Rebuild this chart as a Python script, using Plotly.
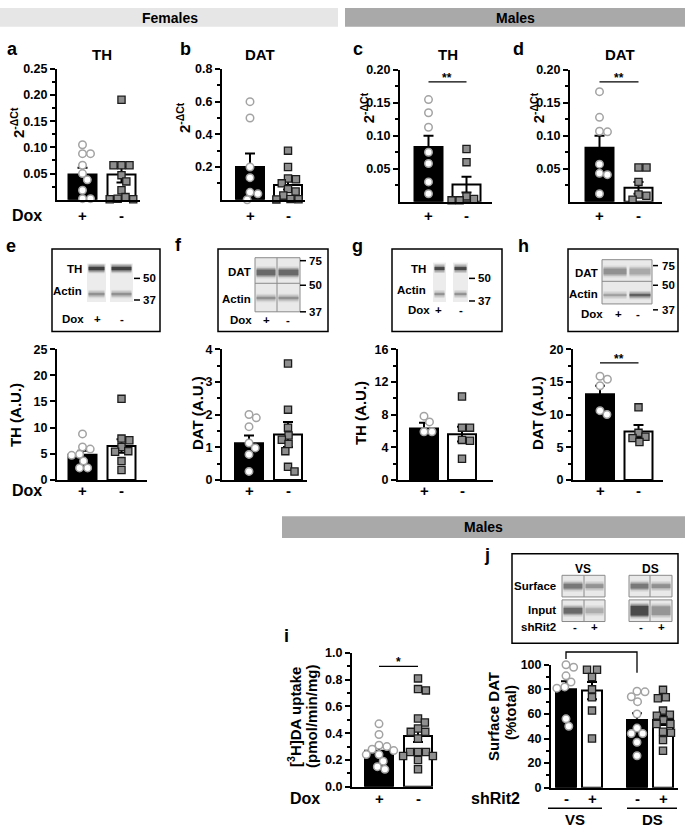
import numpy as np
import plotly.graph_objects as go

W, H = 685, 835
FONT = "Liberation Sans, Arial, Helvetica, sans-serif"

# ---------------- data ----------------
dox_ticks = ["+", "-"]
shrit_ticks = ["-", "+", "-", "+"]
region_ticks = ["VS", "DS"]

# a: TH mRNA, females
a_plus = [0.105, 0.088, 0.088, 0.066, 0.050, 0.038, 0.018, 0.002, 0.002]
a_minus = [0.191, 0.066, 0.066, 0.066, 0.047, 0.035, 0.018, 0.005, 0.002, 0.001, 0.001]
a_mean = [0.048, 0.048]
a_sem = [0.013, 0.015]

# b: DAT mRNA, females
b_plus = [0.60, 0.50, 0.20, 0.135, 0.045, 0.036, 0.0]
b_minus = [0.30, 0.20, 0.13, 0.125, 0.10, 0.065, 0.05, 0.026, 0.005, 0.003, 0.002]
b_mean = [0.20, 0.09]
b_sem = [0.083, 0.027]

# c: TH mRNA, males
c_plus = [0.155, 0.135, 0.113, 0.075, 0.058, 0.030, 0.012]
c_minus = [0.080, 0.060, 0.008, 0.004, 0.002, 0.002]
c_mean = [0.083, 0.026]
c_sem = [0.017, 0.012]

# d: DAT mRNA, males
d_plus = [0.167, 0.128, 0.107, 0.106, 0.057, 0.043, 0.041, 0.012]
d_minus = [0.052, 0.052, 0.030, 0.011, 0.009, 0.003]
d_mean = [0.082, 0.021]
d_sem = [0.018, 0.009]

# e: TH protein, females
e_plus = [8.8, 6.3, 5.9, 4.9, 4.7, 3.6, 2.3, 2.3]
e_minus = [15.5, 7.9, 7.6, 6.3, 5.5, 5.4, 3.6, 1.9]
e_mean = [4.8, 6.5]
e_sem = [0.8, 1.3]

# f: DAT protein, females
f_plus = [2.0, 1.9, 1.63, 1.13, 0.98, 0.78, 0.26]
f_minus = [3.56, 2.15, 1.6, 1.36, 1.23, 1.1, 0.88, 0.4, 0.26]
f_mean = [1.12, 1.39]
f_sem = [0.24, 0.38]

# g: TH protein, males
g_plus = [7.8, 7.1, 5.9, 5.9]
g_minus = [10.2, 6.4, 6.4, 4.9, 4.8, 2.6]
g_mean = [6.3, 5.6]
g_sem = [0.7, 0.9]

# h: DAT protein, males
h_plus = [15.85, 15.4, 14.4, 10.6, 10.0]
h_minus = [11.1, 7.2, 6.6, 6.4, 5.8]
h_mean = [13.1, 7.4]
h_sem = [1.3, 1.0]

# i: [3H]DA uptake, males
i_plus = [0.47, 0.39, 0.31, 0.30, 0.28, 0.27, 0.24, 0.24, 0.19, 0.15, 0.13]
i_minus = [0.81, 0.73, 0.72, 0.51, 0.48, 0.435, 0.41, 0.41, 0.40, 0.36,
           0.26, 0.26, 0.26, 0.23, 0.23, 0.20, 0.13]
i_mean = [0.268, 0.38]
i_sem = [0.03, 0.045]

# j: surface DAT (% total)
j_vs_minus = [100, 98, 91, 86, 82, 81, 56, 50]
j_vs_plus = [101, 96, 96, 90, 80, 73.6, 62.7, 40]
j_ds_minus = [78.5, 78, 74, 70, 60, 48.5, 44, 44, 37, 26]
j_ds_plus = [79.6, 73.6, 72.8, 62.7, 59.4, 58.6, 55, 51.8, 51.8, 45.5, 44.7, 38.7, 30]
j_mean = [80, 79, 55, 55]
j_sem = [6.5, 7, 5.5, 4]

# significance levels (data units)
sig_c = (0.182, "**")
sig_d = (0.182, "**")
sig_h = (17.9, "**")
sig_i = (0.90, "*")
sig_j = (110.4, "*")

# ---------------- layout helpers ----------------
def P(x):
    return x / W


def Q(y):
    return 1 - y / H


shapes = []
annotations = []


def text(s, x, y, size=12, anchor="center", angle=0, xref="paper", yref="paper",
         yshift=0, color="black"):
    annotations.append(dict(
        text=s, x=P(x) if xref == "paper" else x, y=Q(y) if yref == "paper" else y,
        xref=xref, yref=yref, xanchor=anchor, yanchor="middle", showarrow=False,
        textangle=angle, yshift=yshift,
        font=dict(family=FONT, size=size, color=color, weight="bold")))


def rect(x0, y0, x1, y1, fill=None, line=None, lw=0, opacity=1.0):
    shapes.append(dict(type="rect", xref="paper", yref="paper",
                       x0=P(x0), x1=P(x1), y0=Q(y1), y1=Q(y0),
                       fillcolor=fill or "rgba(0,0,0,0)",
                       line=dict(color=line or "rgba(0,0,0,0)", width=lw),
                       opacity=opacity, layer="above"))


def seg(x0, y0, x1, y1, color="black", w=1.5):
    shapes.append(dict(type="line", xref="paper", yref="paper",
                       x0=P(x0), x1=P(x1), y0=Q(y0), y1=Q(y1),
                       line=dict(color=color, width=w), layer="above"))


def band(x0, x1, yc, h, gray):
    for ext, op in [(3.0, 0.18), (1.5, 0.35), (0.0, 0.85)]:
        rect(x0 + 1.5, yc - h / 2 - ext, x1 - 1.5, yc + h / 2 + ext, fill=gray, opacity=op)


def swarm_offsets(vals, yppu, diam):
    vals = np.asarray(vals, float)
    order = np.argsort(-vals, kind="stable")
    placed = []
    off = np.zeros(len(vals))
    for i in order:
        y = vals[i] * yppu
        cands = [0.0]
        for (px_, py_) in placed:
            dy = y - py_
            if abs(dy) < diam:
                dx = np.sqrt(diam * diam - dy * dy)
                cands.extend([px_ + dx, px_ - dx])
        cands.sort(key=lambda c: (round(abs(c), 6), -c))
        for c in cands:
            if all((c - px_) ** 2 + (y - py_) ** 2 >= diam * diam - 1e-6 for px_, py_ in placed):
                off[i] = c
                placed.append((c, y))
                break
    return off


def frange(a, b, s):
    return list(np.round(np.arange(a, b + s / 2, s), 6))


panels = [
    dict(frame=(57, 140, 63, 196), ymax=0.25, major=frange(0.05, 0.25, 0.05), fmt="{:.2f}",
         minor=frange(0.025, 0.225, 0.05), centers=[82.5, 121.5], bw=28,
         groups=[a_plus, a_minus], means=a_mean, sems=a_sem),
    dict(frame=(222, 305, 63, 196), ymax=0.8, major=frange(0.2, 0.8, 0.2), fmt="{:.1f}",
         minor=frange(0.1, 0.7, 0.2), centers=[250, 288], bw=28,
         groups=[b_plus, b_minus], means=b_mean, sems=b_sem),
    dict(frame=(400, 492, 64, 198), ymax=0.2, major=frange(0.05, 0.2, 0.05), fmt="{:.2f}",
         minor=frange(0.025, 0.175, 0.05), centers=[428.5, 466.5], bw=28,
         groups=[c_plus, c_minus], means=c_mean, sems=c_sem, sig=sig_c),
    dict(frame=(570, 662, 64, 198), ymax=0.2, major=frange(0.05, 0.2, 0.05), fmt="{:.2f}",
         minor=frange(0.025, 0.175, 0.05), centers=[599.5, 638.5], bw=28,
         groups=[d_plus, d_minus], means=d_mean, sems=d_sem, sig=sig_d),
    dict(frame=(57, 147, 348, 481), ymax=25, major=frange(0, 25, 5), fmt="{:.0f}",
         minor=[], centers=[82.5, 121.5], bw=28,
         groups=[e_plus, e_minus], means=e_mean, sems=e_sem),
    dict(frame=(222, 307, 348, 481), ymax=4, major=frange(0, 4, 1), fmt="{:.0f}",
         minor=frange(0.5, 3.5, 1), centers=[249, 288], bw=28,
         groups=[f_plus, f_minus], means=f_mean, sems=f_sem),
    dict(frame=(398, 493, 348, 481), ymax=16, major=frange(0, 16, 4), fmt="{:.0f}",
         minor=frange(2, 14, 4), centers=[424, 462], bw=28,
         groups=[g_plus, g_minus], means=g_mean, sems=g_sem),
    dict(frame=(573, 663, 348, 481), ymax=20, major=frange(0, 20, 5), fmt="{:.0f}",
         minor=frange(2.5, 17.5, 5), centers=[600, 638.5], bw=28,
         groups=[h_plus, h_minus], means=h_mean, sems=h_sem, sig=sig_h),
    dict(frame=(352, 433, 657, 793), ymax=1.0, major=frange(0, 1.0, 0.2), fmt="{:.1f}",
         minor=frange(0.1, 0.9, 0.2), centers=[379, 418], bw=28,
         groups=[i_plus, i_minus], means=i_mean, sems=i_sem, sig=sig_i),
    dict(frame=(551, 678, 669, 794), ymax=100, major=frange(0, 100, 20), fmt="{:.0f}",
         minor=frange(10, 90, 20), centers=[566, 592, 637, 663], bw=20,
         groups=[j_vs_minus, j_vs_plus, j_ds_minus, j_ds_plus], means=j_mean, sems=j_sem),
]

fig = go.Figure()
layout = dict(width=W, height=H, margin=dict(l=0, r=0, t=0, b=0, pad=0), autosize=False,
              paper_bgcolor="white", plot_bgcolor="rgba(0,0,0,0)", showlegend=False,
              font=dict(family=FONT, color="black"), hovermode=False)

circle_style = dict(symbol="circle", size=7.5, color="white", line=dict(color="#a3a3a3", width=1.5))
square_style = dict(symbol="square", size=7.2, color="#8e8e8e", line=dict(color="#1c1c1c", width=1.3))

panel_info = []
for k, p in enumerate(panels, start=1):
    x0, x1, yt, yb = p["frame"]
    xs = "" if k == 1 else str(k)
    cen = p["centers"]
    s = cen[1] - cen[0]
    pos = [(c - cen[0]) / s for c in cen]
    xmin = -(cen[0] - x0) / s
    xmax = xmin + (x1 - x0) / s
    yppu = (yb - yt) / p["ymax"]
    # data -> pixel mapping of this panel (same as the axis ranges/domains)
    to_px = (lambda xd, yd, x0=x0, xmin=xmin, s=s, yb=yb, yppu=yppu:
             (x0 + (xd - xmin) * s, yb - yd * yppu))
    panel_info.append((xs, pos, s, to_px))

    layout["xaxis" + xs] = dict(domain=[P(x0), P(x1)], range=[xmin, xmax], anchor="y" + xs,
                                showline=True, linewidth=2, linecolor="black", ticks="",
                                showticklabels=False, showgrid=False, zeroline=False,
                                fixedrange=True)
    layout["yaxis" + xs] = dict(domain=[Q(yb), Q(yt)], range=[0, p["ymax"]], anchor="x" + xs,
                                showline=True, linewidth=2, linecolor="black",
                                ticks="outside", ticklen=5, tickwidth=2, tickcolor="black",
                                tickvals=p["major"], ticktext=[p["fmt"].format(v) for v in p["major"]],
                                tickfont=dict(family=FONT, size=12.5, color="black", weight="bold"),
                                minor=dict(tickvals=p["minor"], ticks="outside", ticklen=3,
                                           tickwidth=2, tickcolor="black"),
                                showgrid=False, zeroline=False, fixedrange=True)

    colors = ["black" if gi % 2 == 0 else "white" for gi in range(len(pos))]
    fig.add_trace(go.Bar(x=pos, y=p["means"], width=p["bw"] / s, xaxis="x" + xs, yaxis="y" + xs,
                         marker=dict(color=colors, line=dict(color="black", width=2)),
                         error_y=dict(type="data", array=p["sems"], visible=True, color="black",
                                      thickness=2, width=5)))
    for gi, vals in enumerate(p["groups"]):
        off = swarm_offsets(vals, yppu, 8.0)
        style = circle_style if gi % 2 == 0 else square_style
        fig.add_trace(go.Scatter(x=[pos[gi] + o / s for o in off], y=vals, mode="markers",
                                 marker=style, cliponaxis=False,
                                 xaxis="x" + xs, yaxis="y" + xs))
    if "sig" in p:
        lvl, star = p["sig"]
        shapes.append(dict(type="line", xref="x" + xs, yref="y" + xs, x0=pos[0], x1=pos[1],
                           y0=lvl, y1=lvl, line=dict(color="black", width=1.3)))
        text(star, (pos[0] + pos[1]) / 2, lvl, size=12, xref="x" + xs, yref="y" + xs, yshift=4)

# j bracket (drawn in paper space, above the plotting area)
xs_j, pos_j, s_j, to_px_j = panel_info[9]
lvl, star = sig_j
bl = to_px_j(pos_j[0], lvl - 5.6)
tl = to_px_j(pos_j[0], lvl)
tr = to_px_j(pos_j[2], lvl)
br = to_px_j(pos_j[2], lvl - 16.8)
shapes.append(dict(type="path", xref="paper", yref="paper",
                   path="M {},{} L {},{} L {},{} L {},{}".format(
                       P(bl[0]), Q(bl[1]), P(tl[0]), Q(tl[1]),
                       P(tr[0]), Q(tr[1]), P(br[0]), Q(br[1])),
                   line=dict(color="black", width=1.3), layer="above"))
text(star, (pos_j[0] + pos_j[2]) / 2, lvl, size=12, xref="x" + xs_j, yref="y" + xs_j, yshift=5)

# x category labels
row_y = [212, 212, 212, 212, 492, 492, 492, 492, 805, 805]
for k, (xs, pos, s, _) in enumerate(panel_info):
    labs = shrit_ticks if len(pos) == 4 else dox_ticks
    for ps, lab in zip(pos, labs):
        annotations.append(dict(text=lab, x=ps, y=Q(row_y[k]), xref="x" + xs, yref="paper",
                                xanchor="center", yanchor="middle", showarrow=False,
                                font=dict(family=FONT, size=15, color="black", weight="bold")))
text("Dox", 27, 212, size=16)
text("Dox", 27, 492, size=16)
text("Dox", 305, 805, size=16)
text("shRit2", 495, 805, size=16)

# VS / DS group labels under j
seg(548, 815, 602, 815, w=1.5)
seg(627, 815, 677, 815, w=1.5)
text(region_ticks[0], 575, 826, size=15)
text(region_ticks[1], 652, 826, size=15)

# banners
rect(0, 1, 338, 20, fill="#e6e6e6")
text("Females", 170, 11, size=14)
rect(345, 1, 685, 20, fill="#a9a9a9")
text("Males", 515, 11, size=14)
rect(282, 518, 685, 540, fill="#a9a9a9")
text("Males", 483, 529, size=14)

# panel letters
for lt, (lx, ly) in zip("abcdefghij", [(12, 43), (185, 43), (358, 43), (518, 43), (11, 243),
                                        (178, 242), (357, 243), (523, 243), (286, 640), (487, 557)]):
    text(lt, lx, ly, size=18)

# panel titles
text("TH", 102, 48, size=15)
text("DAT", 260, 48, size=15)
text("TH", 448, 48, size=15)
text("DAT", 620, 48, size=15)

# y-axis titles
for tx, ty in [(17, 118), (183, 112), (367, 103), (537, 103)]:
    text("2<sup>-ΔCt</sup>", tx, ty, size=15, angle=-90)
text("TH (A.U.)", 15, 415, size=15, angle=-90)
text("DAT (A.U.)", 197, 413, size=15, angle=-90)
text("TH (A.U.)", 360, 413, size=15, angle=-90)
text("DAT (A.U.)", 537, 413, size=15, angle=-90)
text("[<sup>3</sup>H]DA uptake", 295, 722, size=15, angle=-90)
text("(pmol/min/mg)", 312, 722, size=15, angle=-90)
text("Surface DAT", 494, 722, size=15, angle=-90)
text("(%total)", 511, 718, size=15, angle=-90)

# ---------------- western blot insets ----------------
BS = 11.5
# e
rect(52, 246, 160, 330, line="black", lw=1.5)
rect(87, 261, 106, 300, fill="#ececec")
rect(110, 261, 133, 300, fill="#ececec")
for a0, a1 in [(87, 106), (110, 133)]:
    band(a0, a1, 266, 3.5, "#333333")
    band(a0, a1, 292, 2.5, "#8a8a8a")
text("TH", 84, 266, size=BS, anchor="right")
text("Actin", 84, 289, size=BS, anchor="right")
text("Dox", 73, 317, size=BS)
text("+", 97, 317, size=BS)
text("-", 122, 317, size=BS)
for yy, lab in [(276, "50"), (298, "37")]:
    seg(134, yy, 140, yy, w=1.5)
    text(lab, 141, yy, size=BS, anchor="left")

# f
rect(218, 246, 328, 330, line="black", lw=1.5)
rect(255, 255, 300, 310, fill="#e9e9e9")
for a0, a1 in [(255, 277), (277, 300)]:
    band(a0, a1, 270, 6, "#5e5e5e")
    band(a0, a1, 296, 2.5, "#8a8a8a")
rect(255, 255, 300, 310, line="#8a8a8a", lw=1)
seg(277, 255, 277, 310, color="#8a8a8a", w=1)
seg(255, 281, 300, 281, color="#8a8a8a", w=1)
text("DAT", 253, 270, size=BS, anchor="right")
text("Actin", 253, 297, size=BS, anchor="right")
text("Dox", 241, 318, size=BS)
text("+", 266, 318, size=BS)
text("-", 288, 318, size=BS)
for yy, lab in [(258, "75"), (283, "50"), (310, "37")]:
    seg(300, yy, 306, yy, w=1.5)
    text(lab, 307, yy, size=BS, anchor="left")

# g
rect(392, 246, 502, 330, line="black", lw=1.5)
rect(433, 260, 446, 300, fill="#ececec")
rect(453, 260, 468, 300, fill="#ececec")
for a0, a1 in [(433, 446), (453, 468)]:
    band(a0, a1, 266, 3, "#3a3a3a")
    band(a0, a1, 292, 2, "#8a8a8a")
text("TH", 428, 266, size=BS, anchor="right")
text("Actin", 428, 288, size=BS, anchor="right")
text("Dox", 419, 308, size=BS)
text("+", 439, 308, size=BS)
text("-", 461, 308, size=BS)
for yy, lab in [(276, "50"), (299, "37")]:
    seg(469, yy, 475, yy, w=1.5)
    text(lab, 476, yy, size=BS, anchor="left")

# h
rect(568, 246, 678, 330, line="black", lw=1.5)
rect(602, 257, 652, 302, fill="#e9e9e9")
band(602, 628, 269, 6, "#8a8a8a")
band(628, 652, 269, 6, "#a3a3a3")
band(602, 628, 293, 2, "#9a9a9a")
band(628, 652, 293, 2.5, "#555555")
rect(602, 257, 652, 302, line="#8a8a8a", lw=1)
seg(602, 279, 652, 279, color="#8a8a8a", w=1)
text("DAT", 600, 271, size=BS, anchor="right")
text("Actin", 600, 292, size=BS, anchor="right")
text("Dox", 592, 312, size=BS)
text("+", 618, 312, size=BS)
text("-", 638, 312, size=BS)
for yy, lab in [(263, "75"), (283, "50"), (308, "37")]:
    seg(653, yy, 658, yy, w=1.5)
    text(lab, 660, yy, size=BS, anchor="left")

# j
rect(512, 556, 678, 647, line="black", lw=1.5)
text("VS", 583, 572, size=BS + 0.5)
text("DS", 650, 572, size=BS + 0.5)
j_cells = [
    (562, 584, 605, [(589, 5, "#6e6e6e", "#8c8c8c"), (614, 6, "#5e5e5e", "#a8a8a8")]),
    (629, 650, 672, [(589, 5, "#6e6e6e", "#888888"), (614, 10, "#3c3c3c", "#8e8e8e")]),
]
for cx0, cmid, cx1, rows in j_cells:
    for (yc, hh, g1, g2), (ry0, ry1) in zip(rows, [(578, 600), (603, 625)]):
        rect(cx0, ry0, cx1, ry1, fill="#e9e9e9")
        band(cx0, cmid, yc, hh, g1)
        band(cmid, cx1, yc, hh - 1, g2)
        rect(cx0, ry0, cx1, ry1, line="#8a8a8a", lw=1)
        seg(cmid, ry0, cmid, ry1, color="#8a8a8a", w=1)
text("Surface", 558, 589, size=BS, anchor="right")
text("Input", 558, 613, size=BS, anchor="right")
text("shRit2", 558, 631, size=BS, anchor="right")
for xx, lab in zip([575, 594, 641, 661], shrit_ticks):
    text(lab, xx, 631, size=BS)

layout["shapes"] = shapes
layout["annotations"] = annotations
layout["bargap"] = 0
fig.update_layout(**layout)
fig.write_html(
    "out.html",
    config={"displayModeBar": False, "staticPlot": True},
    post_script="document.body.style.margin='0';document.body.style.padding='0';"
                "document.documentElement.style.overflow='hidden';",
)
